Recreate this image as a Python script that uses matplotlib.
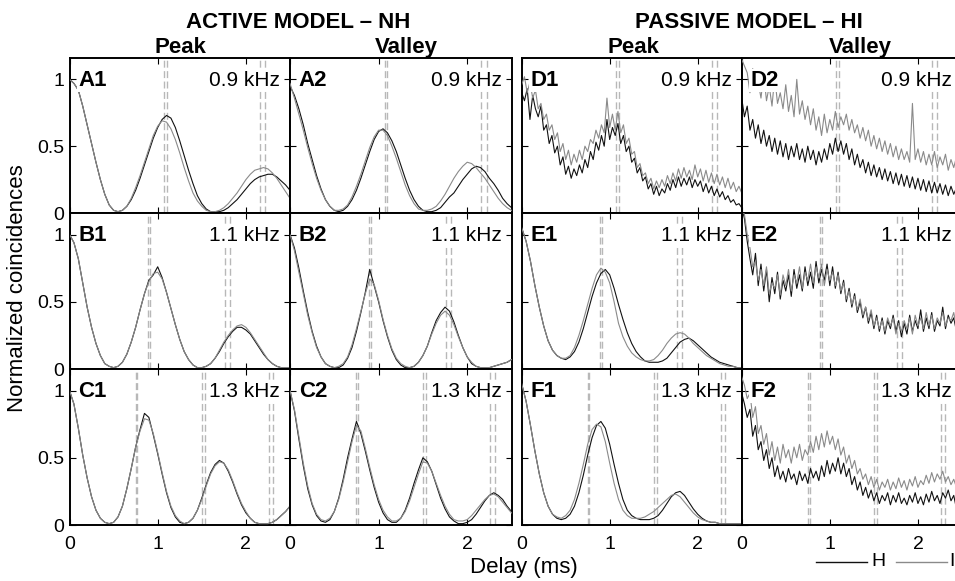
import numpy as np
import matplotlib.pyplot as plt
from matplotlib.lines import Line2D

plt.rcParams['font.family'] = ['Liberation Sans', 'DejaVu Sans']

# Normalized coincidences vs delay (0 - 2.5 ms), H = black, I = gray
# smooth curves: one value every 0.05 ms
a1_h = [1.00, 0.97, 0.92, 0.80, 0.66, 0.52, 0.38, 0.25, 0.14, 0.06, 0.02, 0.01, 0.02, 0.05, 0.10, 0.17, 0.26,
        0.36, 0.46, 0.56, 0.64, 0.70, 0.73, 0.71, 0.64, 0.54, 0.43, 0.32, 0.22, 0.13, 0.07, 0.03, 0.01, 0.01,
        0.01, 0.02, 0.04, 0.07, 0.10, 0.14, 0.18, 0.22, 0.25, 0.27, 0.28, 0.29, 0.29, 0.27, 0.24, 0.21, 0.17]
a1_i = [1.00, 0.97, 0.92, 0.80, 0.66, 0.52, 0.38, 0.25, 0.14, 0.06, 0.02, 0.01, 0.02, 0.05, 0.11, 0.19, 0.28,
        0.38, 0.48, 0.58, 0.65, 0.69, 0.68, 0.63, 0.55, 0.45, 0.34, 0.24, 0.15, 0.09, 0.05, 0.02, 0.01, 0.01,
        0.02, 0.04, 0.07, 0.11, 0.15, 0.20, 0.25, 0.29, 0.32, 0.33, 0.34, 0.33, 0.30, 0.26, 0.21, 0.16, 0.11]
a2_h = [0.95, 0.88, 0.78, 0.66, 0.52, 0.40, 0.28, 0.18, 0.10, 0.05, 0.02, 0.01, 0.02, 0.05, 0.10, 0.17, 0.26,
        0.36, 0.46, 0.55, 0.61, 0.63, 0.60, 0.54, 0.46, 0.36, 0.26, 0.17, 0.10, 0.05, 0.02, 0.01, 0.01, 0.02,
        0.04, 0.08, 0.12, 0.15, 0.20, 0.25, 0.29, 0.33, 0.35, 0.34, 0.31, 0.26, 0.22, 0.17, 0.11, 0.07, 0.04]
a2_i = [0.97, 0.86, 0.74, 0.62, 0.49, 0.37, 0.26, 0.17, 0.10, 0.05, 0.02, 0.02, 0.03, 0.06, 0.12, 0.20, 0.29,
        0.39, 0.49, 0.57, 0.62, 0.62, 0.58, 0.50, 0.41, 0.31, 0.21, 0.13, 0.07, 0.03, 0.02, 0.02, 0.03, 0.05,
        0.09, 0.14, 0.20, 0.26, 0.31, 0.35, 0.38, 0.37, 0.34, 0.30, 0.26, 0.21, 0.16, 0.11, 0.07, 0.04, 0.02]
b1_h = [1.00, 0.94, 0.82, 0.64, 0.46, 0.31, 0.19, 0.10, 0.04, 0.02, 0.01, 0.02, 0.05, 0.11, 0.20, 0.31, 0.44,
        0.56, 0.66, 0.70, 0.76, 0.68, 0.57, 0.45, 0.33, 0.22, 0.13, 0.07, 0.03, 0.01, 0.01, 0.02, 0.04, 0.08,
        0.13, 0.19, 0.24, 0.28, 0.31, 0.31, 0.29, 0.26, 0.21, 0.16, 0.11, 0.07, 0.04, 0.02, 0.01, 0.01, 0.01]
b1_i = [1.00, 0.94, 0.82, 0.64, 0.46, 0.31, 0.19, 0.10, 0.04, 0.02, 0.01, 0.02, 0.05, 0.11, 0.20, 0.31, 0.44,
        0.56, 0.65, 0.71, 0.72, 0.67, 0.57, 0.45, 0.33, 0.22, 0.13, 0.07, 0.03, 0.01, 0.01, 0.02, 0.04, 0.08,
        0.14, 0.20, 0.25, 0.29, 0.32, 0.33, 0.31, 0.27, 0.22, 0.17, 0.12, 0.07, 0.04, 0.02, 0.01, 0.01, 0.01]
b2_h = [1.00, 0.90, 0.75, 0.58, 0.42, 0.28, 0.17, 0.09, 0.04, 0.02, 0.01, 0.01, 0.03, 0.08, 0.16, 0.28, 0.42,
        0.57, 0.74, 0.62, 0.50, 0.36, 0.24, 0.14, 0.07, 0.03, 0.01, 0.01, 0.02, 0.05, 0.10, 0.17, 0.27, 0.36,
        0.42, 0.46, 0.43, 0.35, 0.25, 0.16, 0.09, 0.04, 0.02, 0.01, 0.01, 0.01, 0.02, 0.03, 0.04, 0.05, 0.07]
b2_i = [1.00, 0.88, 0.72, 0.56, 0.40, 0.27, 0.16, 0.09, 0.04, 0.02, 0.01, 0.02, 0.04, 0.09, 0.18, 0.30, 0.43,
        0.56, 0.67, 0.63, 0.51, 0.37, 0.25, 0.15, 0.08, 0.04, 0.02, 0.01, 0.02, 0.05, 0.10, 0.17, 0.26, 0.34,
        0.40, 0.43, 0.40, 0.33, 0.24, 0.16, 0.09, 0.05, 0.02, 0.01, 0.01, 0.01, 0.02, 0.03, 0.04, 0.05, 0.07]
c1_h = [1.00, 0.90, 0.72, 0.52, 0.35, 0.21, 0.11, 0.05, 0.02, 0.01, 0.02, 0.06, 0.14, 0.27, 0.42, 0.58, 0.71,
        0.83, 0.80, 0.67, 0.53, 0.38, 0.24, 0.13, 0.06, 0.02, 0.01, 0.02, 0.05, 0.11, 0.20, 0.30, 0.39, 0.45,
        0.48, 0.46, 0.40, 0.32, 0.23, 0.15, 0.09, 0.05, 0.02, 0.01, 0.01, 0.01, 0.02, 0.04, 0.07, 0.10, 0.14]
c1_i = [1.00, 0.90, 0.72, 0.52, 0.35, 0.21, 0.11, 0.05, 0.02, 0.01, 0.02, 0.06, 0.14, 0.27, 0.42, 0.58, 0.70,
        0.79, 0.78, 0.68, 0.54, 0.39, 0.25, 0.14, 0.07, 0.03, 0.01, 0.02, 0.05, 0.11, 0.19, 0.29, 0.38, 0.44,
        0.47, 0.46, 0.41, 0.33, 0.24, 0.16, 0.10, 0.05, 0.02, 0.01, 0.01, 0.01, 0.02, 0.04, 0.07, 0.10, 0.14]
c2_h = [1.00, 0.85, 0.64, 0.44, 0.27, 0.15, 0.07, 0.03, 0.02, 0.04, 0.10, 0.20, 0.34, 0.50, 0.64, 0.77, 0.68,
        0.55, 0.41, 0.28, 0.17, 0.09, 0.04, 0.02, 0.02, 0.05, 0.11, 0.20, 0.31, 0.41, 0.50, 0.47, 0.40, 0.30,
        0.20, 0.12, 0.06, 0.03, 0.01, 0.01, 0.02, 0.04, 0.08, 0.13, 0.18, 0.22, 0.24, 0.22, 0.19, 0.14, 0.10]
c2_i = [1.00, 0.86, 0.66, 0.46, 0.29, 0.16, 0.08, 0.04, 0.03, 0.05, 0.10, 0.19, 0.32, 0.47, 0.62, 0.74, 0.70,
        0.57, 0.43, 0.30, 0.19, 0.11, 0.06, 0.03, 0.03, 0.05, 0.10, 0.18, 0.28, 0.38, 0.47, 0.46, 0.40, 0.31,
        0.22, 0.14, 0.08, 0.04, 0.03, 0.03, 0.04, 0.07, 0.11, 0.15, 0.19, 0.22, 0.23, 0.21, 0.17, 0.13, 0.09]
e1_h = [1.05, 0.95, 0.80, 0.62, 0.46, 0.32, 0.21, 0.14, 0.10, 0.08, 0.07, 0.09, 0.13, 0.20, 0.30, 0.42, 0.54,
        0.64, 0.71, 0.74, 0.70, 0.60, 0.48, 0.37, 0.27, 0.19, 0.13, 0.09, 0.06, 0.05, 0.05, 0.05, 0.06, 0.08,
        0.12, 0.16, 0.20, 0.22, 0.23, 0.21, 0.18, 0.15, 0.12, 0.09, 0.07, 0.05, 0.04, 0.03, 0.02, 0.01, 0.01]
e1_i = [1.05, 0.95, 0.80, 0.62, 0.46, 0.32, 0.21, 0.14, 0.10, 0.08, 0.08, 0.10, 0.16, 0.25, 0.36, 0.48, 0.60,
        0.70, 0.75, 0.72, 0.64, 0.50, 0.34, 0.24, 0.17, 0.12, 0.09, 0.07, 0.06, 0.06, 0.07, 0.10, 0.14, 0.19,
        0.23, 0.26, 0.27, 0.26, 0.23, 0.19, 0.16, 0.13, 0.10, 0.08, 0.06, 0.04, 0.03, 0.02, 0.02, 0.01, 0.01]
f1_h = [1.05, 0.92, 0.74, 0.55, 0.38, 0.24, 0.14, 0.08, 0.05, 0.04, 0.05, 0.08, 0.14, 0.24, 0.37, 0.52, 0.65,
        0.74, 0.77, 0.72, 0.60, 0.45, 0.31, 0.19, 0.11, 0.07, 0.05, 0.04, 0.04, 0.04, 0.05, 0.07, 0.11, 0.16,
        0.21, 0.24, 0.25, 0.22, 0.17, 0.12, 0.08, 0.05, 0.03, 0.02, 0.02, 0.01, 0.01, 0.01, 0.01, 0.01, 0.01]
f1_i = [1.05, 0.92, 0.74, 0.55, 0.38, 0.24, 0.14, 0.08, 0.06, 0.05, 0.07, 0.11, 0.19, 0.31, 0.45, 0.60, 0.71,
        0.75, 0.73, 0.62, 0.46, 0.31, 0.19, 0.11, 0.07, 0.05, 0.05, 0.05, 0.06, 0.08, 0.10, 0.13, 0.16, 0.19,
        0.22, 0.23, 0.21, 0.17, 0.13, 0.09, 0.06, 0.04, 0.03, 0.02, 0.02, 0.01, 0.01, 0.01, 0.01, 0.01, 0.01]

# noisy curves (passive model, HI): one value every 0.03125 ms
d1_h = [0.90, 0.84, 0.93, 0.70, 0.88, 0.78, 0.72, 0.80, 0.62, 0.66, 0.52, 0.58, 0.45, 0.50, 0.36, 0.42, 0.29,
        0.35, 0.26, 0.33, 0.28, 0.36, 0.30, 0.40, 0.34, 0.46, 0.40, 0.53, 0.47, 0.58, 0.50, 0.70, 0.55, 0.64,
        0.58, 0.67, 0.52, 0.58, 0.46, 0.50, 0.38, 0.41, 0.30, 0.34, 0.24, 0.27, 0.18, 0.22, 0.14, 0.20, 0.13,
        0.18, 0.15, 0.22, 0.17, 0.25, 0.19, 0.27, 0.20, 0.26, 0.21, 0.27, 0.19, 0.25, 0.20, 0.24, 0.16, 0.22,
        0.15, 0.20, 0.13, 0.18, 0.12, 0.16, 0.10, 0.13, 0.08, 0.10, 0.06, 0.07, 0.04]
d1_i = [0.96, 1.02, 0.90, 0.98, 0.86, 0.92, 0.78, 0.82, 0.70, 0.74, 0.62, 0.66, 0.55, 0.60, 0.46, 0.52, 0.40,
        0.47, 0.36, 0.44, 0.38, 0.47, 0.40, 0.50, 0.46, 0.55, 0.52, 0.62, 0.56, 0.66, 0.60, 0.86, 0.64, 0.74,
        0.62, 0.76, 0.60, 0.66, 0.52, 0.56, 0.44, 0.46, 0.34, 0.37, 0.28, 0.30, 0.22, 0.26, 0.18, 0.24, 0.19,
        0.25, 0.20, 0.28, 0.22, 0.30, 0.24, 0.33, 0.26, 0.34, 0.27, 0.32, 0.25, 0.36, 0.27, 0.33, 0.24, 0.32,
        0.23, 0.30, 0.22, 0.29, 0.21, 0.27, 0.19, 0.26, 0.18, 0.23, 0.16, 0.20, 0.15]
d2_h = [0.86, 0.72, 0.80, 0.62, 0.70, 0.56, 0.66, 0.52, 0.62, 0.50, 0.58, 0.46, 0.56, 0.44, 0.54, 0.42, 0.52,
        0.40, 0.50, 0.42, 0.52, 0.40, 0.48, 0.38, 0.50, 0.40, 0.47, 0.36, 0.46, 0.38, 0.48, 0.40, 0.52, 0.44,
        0.56, 0.46, 0.54, 0.44, 0.52, 0.40, 0.48, 0.36, 0.44, 0.34, 0.40, 0.30, 0.38, 0.28, 0.36, 0.27, 0.34,
        0.25, 0.33, 0.24, 0.31, 0.22, 0.30, 0.21, 0.29, 0.20, 0.28, 0.19, 0.27, 0.18, 0.26, 0.17, 0.25, 0.16,
        0.24, 0.15, 0.23, 0.15, 0.22, 0.14, 0.21, 0.13, 0.20, 0.14, 0.19, 0.13, 0.15]
d2_i = [1.15, 1.10, 1.05, 0.90, 1.08, 0.92, 0.98, 0.86, 1.04, 0.84, 0.95, 0.80, 1.02, 0.82, 0.90, 0.78, 0.96,
        0.76, 0.88, 0.72, 1.00, 0.74, 0.84, 0.70, 0.80, 0.66, 0.78, 0.62, 0.72, 0.58, 0.74, 0.60, 0.70, 0.62,
        0.76, 0.64, 0.72, 0.66, 0.74, 0.62, 0.70, 0.60, 0.66, 0.56, 0.64, 0.54, 0.62, 0.50, 0.58, 0.48, 0.56,
        0.46, 0.54, 0.44, 0.52, 0.42, 0.50, 0.40, 0.48, 0.40, 0.46, 0.38, 0.82, 0.40, 0.48, 0.38, 0.46, 0.36,
        0.44, 0.36, 0.46, 0.34, 0.42, 0.36, 0.44, 0.32, 0.40, 0.34, 0.42, 0.32, 0.38]
e2_h = [1.20, 1.12, 0.95, 0.82, 0.70, 0.86, 0.62, 0.78, 0.58, 0.74, 0.50, 0.68, 0.56, 0.72, 0.52, 0.66, 0.58,
        0.70, 0.54, 0.74, 0.60, 0.70, 0.58, 0.76, 0.62, 0.72, 0.60, 0.80, 0.64, 0.74, 0.66, 0.78, 0.62, 0.76,
        0.60, 0.72, 0.56, 0.66, 0.50, 0.60, 0.46, 0.56, 0.42, 0.50, 0.38, 0.46, 0.34, 0.42, 0.30, 0.40, 0.28,
        0.38, 0.26, 0.36, 0.30, 0.40, 0.28, 0.36, 0.24, 0.34, 0.26, 0.40, 0.28, 0.36, 0.30, 0.44, 0.28, 0.38,
        0.30, 0.42, 0.28, 0.36, 0.32, 0.46, 0.30, 0.40, 0.34, 0.38, 0.28, 0.36, 0.32]
e2_i = [1.18, 1.15, 1.00, 0.90, 0.76, 0.80, 0.66, 0.74, 0.62, 0.76, 0.56, 0.64, 0.60, 0.70, 0.55, 0.70, 0.62,
        0.74, 0.58, 0.70, 0.64, 0.76, 0.60, 0.72, 0.66, 0.78, 0.64, 0.76, 0.68, 0.78, 0.62, 0.74, 0.66, 0.72,
        0.62, 0.70, 0.58, 0.64, 0.52, 0.58, 0.48, 0.54, 0.44, 0.52, 0.40, 0.46, 0.36, 0.44, 0.32, 0.38, 0.30,
        0.36, 0.28, 0.38, 0.32, 0.38, 0.26, 0.34, 0.28, 0.36, 0.30, 0.38, 0.26, 0.40, 0.32, 0.38, 0.30, 0.42,
        0.32, 0.40, 0.30, 0.38, 0.34, 0.42, 0.32, 0.38, 0.36, 0.42, 0.30, 0.38, 0.34]
f2_h = [0.98, 0.90, 0.80, 0.86, 0.66, 0.74, 0.56, 0.62, 0.48, 0.56, 0.42, 0.50, 0.36, 0.44, 0.34, 0.40, 0.32,
        0.42, 0.34, 0.38, 0.30, 0.40, 0.33, 0.38, 0.31, 0.42, 0.35, 0.40, 0.33, 0.44, 0.36, 0.48, 0.38, 0.46,
        0.40, 0.50, 0.38, 0.46, 0.36, 0.42, 0.30, 0.36, 0.26, 0.32, 0.22, 0.28, 0.20, 0.26, 0.18, 0.24, 0.16,
        0.22, 0.18, 0.24, 0.15, 0.22, 0.17, 0.24, 0.16, 0.20, 0.15, 0.22, 0.17, 0.24, 0.16, 0.21, 0.15, 0.23,
        0.17, 0.25, 0.18, 0.22, 0.16, 0.24, 0.20, 0.26, 0.18, 0.22, 0.12, 0.16, 0.10]
f2_i = [1.10, 1.04, 0.94, 0.98, 0.80, 0.88, 0.68, 0.74, 0.60, 0.68, 0.52, 0.62, 0.48, 0.58, 0.46, 0.60, 0.50,
        0.56, 0.46, 0.58, 0.50, 0.60, 0.48, 0.56, 0.52, 0.62, 0.54, 0.66, 0.56, 0.68, 0.58, 0.70, 0.60, 0.66,
        0.56, 0.64, 0.52, 0.58, 0.46, 0.52, 0.42, 0.48, 0.38, 0.42, 0.34, 0.38, 0.30, 0.36, 0.28, 0.34, 0.26,
        0.32, 0.28, 0.34, 0.26, 0.32, 0.27, 0.35, 0.28, 0.33, 0.26, 0.34, 0.29, 0.36, 0.28, 0.33, 0.30, 0.37,
        0.31, 0.39, 0.32, 0.38, 0.34, 0.40, 0.32, 0.36, 0.30, 0.34, 0.28, 0.30, 0.26]

# characteristic delays (dashed) for each CF row
freqs = ['0.9 kHz', '1.1 kHz', '1.3 kHz']
delays = [[1.07, 1.10, 2.16, 2.22],
          [0.89, 0.91, 1.76, 1.82],
          [0.75, 0.77, 1.50, 1.54, 2.26, 2.31]]

curves = {
    'A1': (a1_h, a1_i), 'A2': (a2_h, a2_i), 'D1': (d1_h, d1_i), 'D2': (d2_h, d2_i),
    'B1': (b1_h, b1_i), 'B2': (b2_h, b2_i), 'E1': (e1_h, e1_i), 'E2': (e2_h, e2_i),
    'C1': (c1_h, c1_i), 'C2': (c2_h, c2_i), 'F1': (f1_h, f1_i), 'F2': (f2_h, f2_i),
}
grid = [['A1', 'A2', 'D1', 'D2'],
        ['B1', 'B2', 'E1', 'E2'],
        ['C1', 'C2', 'F1', 'F2']]

W, H = 955, 581
cols = [(69.5, 290), (290, 511.5), (521.7, 741.7), (741.7, 962)]
rows = [(58, 213), (213, 369), (369, 525)]

fig = plt.figure(figsize=(W / 100, H / 100), dpi=100)

for r, (y0, y1) in enumerate(rows):
    for c, (x0, x1) in enumerate(cols):
        name = grid[r][c]
        ax = fig.add_axes([x0 / W, 1 - y1 / H, (x1 - x0) / W, (y1 - y0) / H])
        for d in delays[r]:
            ax.axvline(d, color='#b8b8b8', lw=1.0, ls=(0, (5, 2.5)), zorder=1)
        h, i = curves[name]
        ax.plot(np.linspace(0, 2.5, len(h)), h, color='#111111', lw=0.8, zorder=2)
        ax.plot(np.linspace(0, 2.5, len(i)), i, color='#8a8a8a', lw=0.8, zorder=3)
        ax.set_xlim(0, 2.5)
        ax.set_ylim(0, 1.16)
        ax.set_xticks([0, 1, 2])
        ax.set_yticks([0, 0.5, 1])
        ax.set_yticklabels(['0', '0.5', '1'])
        ax.tick_params(direction='in', length=4, width=0.8, top=True, right=True,
                       labelsize=14, labelleft=(c == 0))
        ax.tick_params(axis='x', pad=8, labelbottom=(r == 2))
        ax.tick_params(axis='y', pad=4)
        for s in ax.spines.values():
            s.set_linewidth(1.4)
        box = dict(fc='white', ec='none', pad=1.0)
        ax.text(0.04, 0.855, name, transform=ax.transAxes, fontsize=16,
                fontweight='bold', ha='left', va='center', bbox=box, zorder=5)
        ax.text(0.955, 0.855, freqs[r], transform=ax.transAxes, fontsize=15,
                ha='right', va='center', bbox=box, zorder=5)

# group titles
fig.text(298 / W, 1 - 28 / H, 'ACTIVE MODEL – NH', fontsize=16, fontweight='bold',
         ha='center', va='baseline')
fig.text(749 / W, 1 - 28 / H, 'PASSIVE MODEL – HI', fontsize=16, fontweight='bold',
         ha='center', va='baseline')
for xc, txt in [(180, 'Peak'), (406, 'Valley'), (633, 'Peak'), (860, 'Valley')]:
    fig.text(xc / W, 1 - 53 / H, txt, fontsize=16, fontweight='bold',
             ha='center', va='baseline')

fig.text(18 / W, 1 - 288 / H, 'Normalized coincidences', fontsize=16,
         rotation=90, ha='center', va='center')
fig.text(524 / W, 1 - 567 / H, 'Delay (ms)', fontsize=16, ha='center', va='center')

# legend
fig.add_artist(Line2D([816 / W, 867 / W], [1 - 562 / H] * 2, color='#111111', lw=1.0))
fig.text(878 / W, 1 - 562 / H, 'H', fontsize=14, ha='center', va='center')
fig.add_artist(Line2D([896 / W, 947 / W], [1 - 562 / H] * 2, color='#8a8a8a', lw=1.0))
fig.text(954.5 / W, 1 - 562 / H, 'I', fontsize=14, ha='right', va='center')

fig.savefig('out.png', dpi=100)
